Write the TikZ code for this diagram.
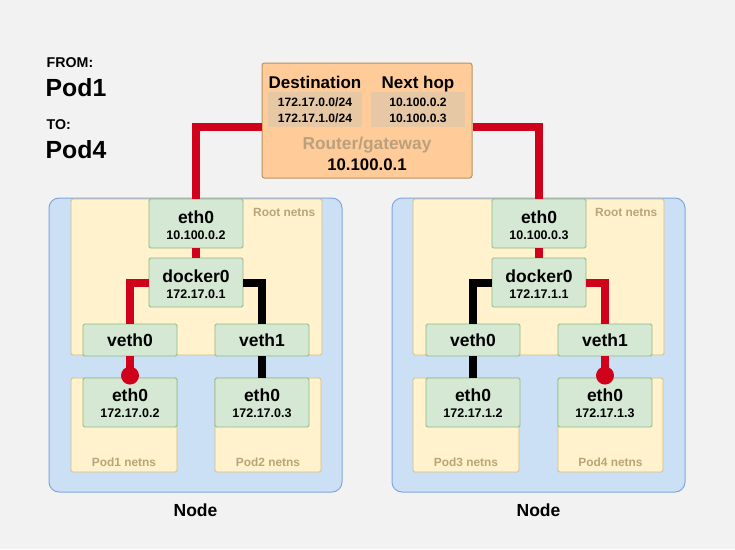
\documentclass[tikz,border=0pt]{standalone}
\usepackage{fontspec}
\setmainfont{Liberation Sans}
\definecolor{bgc}{HTML}{F2F2F2}
\definecolor{gfill}{HTML}{D5E8D4}
\definecolor{gstroke}{HTML}{8FB882}
\definecolor{yfill}{HTML}{FFF2CC}
\definecolor{ystroke}{HTML}{D2BC80}
\definecolor{bfill}{HTML}{CCE0F5}
\definecolor{bstroke}{HTML}{80A8DC}
\definecolor{ofill}{HTML}{FFCC99}
\definecolor{ostroke}{HTML}{B8935F}
\definecolor{cellc}{HTML}{E6C8A5}
\definecolor{tanT}{HTML}{B8A67A}
\definecolor{rgT}{HTML}{BBA07E}
\definecolor{redl}{HTML}{D0021B}
\tikzset{
  gbox/.style={draw=gstroke, fill=gfill, line width=0.9pt, rounded corners=1.5pt, minimum width=94pt, minimum height=49pt, inner sep=0pt},
  vbox/.style={gbox, minimum height=32pt},
  bigt/.style={font=\fontsize{17.5}{18}\selectfont\bfseries, inner sep=0pt},
  subt/.style={font=\fontsize{12.5}{14}\selectfont\bfseries, inner sep=0pt},
  nsbox/.style={draw=ystroke, fill=yfill, line width=0.9pt, rounded corners=1.5pt},
  nodebox/.style={draw=bstroke, fill=bfill, line width=1pt, rounded corners=10pt},
  nslab/.style={font=\fontsize{11.9}{13}\selectfont\bfseries, text=tanT, inner sep=0pt},
  redline/.style={draw=redl, line width=8pt},
  blkline/.style={draw=black, line width=8pt},
  dotend/.style={fill=redl, draw=none, circle, minimum size=18pt, inner sep=0pt},
}
\newcommand\gtwo[5]{%
  \node[gbox] (#1) at (#2,#3) {};
  \node[bigt, anchor=base] (#1m) at ([yshift=0.5pt]#1.center) {#4};
  \node[subt, anchor=base] (#1s) at ([yshift=-15.8pt]#1.center) {#5};}
\newcommand\gpod[5]{%
  \node[gbox] (#1) at (#2,#3) {};
  \node[bigt, anchor=base] (#1m) at ([yshift=1.5pt]#1.center) {#4};
  \node[subt, anchor=base] (#1s) at ([yshift=-14.5pt]#1.center) {#5};}
\newcommand\gone[4]{%
  \node[vbox] (#1) at (#2,#3) {};
  \node[bigt, anchor=base] (#1m) at ([yshift=-6.5pt]#1.center) {#4};}
\begin{document}
\begin{tikzpicture}[x=1pt,y=-1pt]
\fill[bgc] (0,0) rectangle (735,549);
\useasboundingbox (0,0) rectangle (735,549);

% left labels
\node[font=\fontsize{14.2}{15}\selectfont\bfseries, anchor=base west, inner sep=0pt] (from) at (46.5,67.3) {FROM:};
\node[font=\fontsize{24.8}{26}\selectfont\bfseries, anchor=base west, inner sep=0pt] (pfrom) at (45.5,96) {Pod1};
\node[font=\fontsize{14.2}{15}\selectfont\bfseries, anchor=base west, inner sep=0pt] (to) at (46.5,129.3) {TO:};
\node[font=\fontsize{24.8}{26}\selectfont\bfseries, anchor=base west, inner sep=0pt] (pto) at (45.5,158) {Pod4};

% router
\node[draw=ostroke, fill=ofill, line width=1pt, rounded corners=2.5pt, minimum width=210pt, minimum height=115pt, inner sep=0pt] (router) at (367,120.5) {};
\fill[cellc] (268,92) rectangle (362,127);
\fill[cellc] (371,92) rectangle (465,127);
\node[font=\fontsize{17}{18}\selectfont\bfseries, anchor=base, inner sep=0pt] (dest) at (315,88.3) {Destination};
\node[font=\fontsize{17}{18}\selectfont\bfseries, anchor=base, inner sep=0pt] (nhop) at (418,88.3) {Next hop};
\node[subt, font=\fontsize{12.1}{13}\selectfont\bfseries, anchor=base] (r1a) at (315,106.7) {172.17.0.0/24};
\node[subt, font=\fontsize{12.1}{13}\selectfont\bfseries, anchor=base] (r2a) at (315,122.7) {172.17.1.0/24};
\node[subt, font=\fontsize{12.1}{13}\selectfont\bfseries, anchor=base] (r1b) at (418,106.7) {10.100.0.2};
\node[subt, font=\fontsize{12.1}{13}\selectfont\bfseries, anchor=base] (r2b) at (418,122.7) {10.100.0.3};
\node[font=\fontsize{17.3}{18}\selectfont\bfseries, text=rgT, anchor=base, inner sep=0pt] (rg) at (367,149.3) {Router/gateway};
\node[font=\fontsize{16.8}{18}\selectfont\bfseries, anchor=base, inner sep=0pt] (rip) at (367,170.7) {10.100.0.1};

% host boxes
\draw[nodebox] (49,198) rectangle (342,492);
\draw[nodebox] (392,198) rectangle (685,492);
\node[bigt, anchor=base] (nodeL) at (195.5,516.7) {Node};
\node[bigt, anchor=base] (nodeR) at (538.5,516.7) {Node};

% netns boxes
\draw[nsbox] (71,199) rectangle (322,355);
\draw[nsbox] (413,199) rectangle (664,355);
\draw[nsbox] (71,378) rectangle (177,472);
\draw[nsbox] (215,378) rectangle (321,472);
\draw[nsbox] (413,378) rectangle (519,472);
\draw[nsbox] (558,378) rectangle (663,472);
\node[nslab, anchor=base east] (rootL) at (315.5,216.7) {Root netns};
\node[nslab, anchor=base east] (rootR) at (657.5,216.7) {Root netns};
\node[nslab, anchor=base] (pod1l) at (124,466.7) {Pod1 netns};
\node[nslab, anchor=base] (pod2l) at (268,466.7) {Pod2 netns};
\node[nslab, anchor=base] (pod3l) at (466,466.7) {Pod3 netns};
\node[nslab, anchor=base] (pod4l) at (610.5,466.7) {Pod4 netns};

% interface boxes
\gtwo{e1}{196}{223.5}{eth0}{10.100.0.2}
\gtwo{d1}{196}{282.5}{docker0}{172.17.0.1}
\gone{v0}{130}{340}{veth0}
\gone{v1}{262}{340}{veth1}
\gpod{p1}{130}{402.5}{eth0}{172.17.0.2}
\gpod{p2}{262}{402.5}{eth0}{172.17.0.3}
\gtwo{e2}{539}{223.5}{eth0}{10.100.0.3}
\gtwo{d2}{539}{282.5}{docker0}{172.17.1.1}
\gone{v2}{473}{340}{veth0}
\gone{v3}{605}{340}{veth1}
\gpod{p3}{473}{402.5}{eth0}{172.17.1.2}
\gpod{p4}{605}{402.5}{eth0}{172.17.1.3}

% connectors
\draw[redline] (e1.north) |- ([yshift=-6.5pt]router.west);
\draw[redline] ([yshift=-6pt]router.east) -| (e2.north);
\draw[redline] (e1.south) -- (d1.north);
\draw[redline] (e2.south) -- (d2.north);
\draw[redline] (d1.west) -| (v0.north);
\draw[blkline] (d1.east) -| (v1.north);
\draw[blkline] (d2.west) -| (v2.north);
\draw[redline] (d2.east) -| (v3.north);
\draw[redline] (v0.south) -- (p1.north);
\draw[blkline] (v1.south) -- (p2.north);
\draw[blkline] (v2.south) -- (p3.north);
\draw[redline] (v3.south) -- (p4.north);
\node[dotend] (dot1) at ([yshift=2pt]p1.north) {};
\node[dotend] (dot2) at ([yshift=2pt]p4.north) {};
\end{tikzpicture}
\end{document}
